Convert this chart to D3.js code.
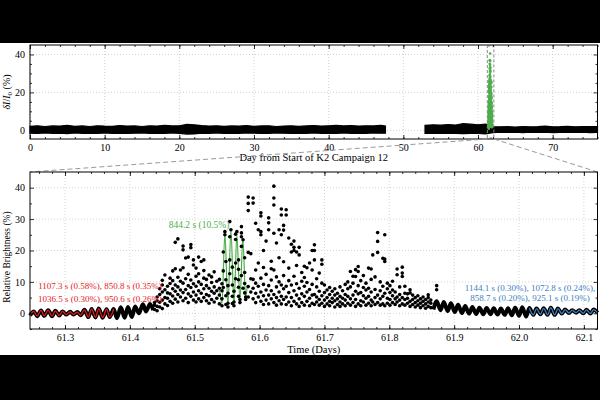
<!DOCTYPE html>
<html>
<head>
<meta charset="utf-8">
<script src="https://cdn.jsdelivr.net/npm/d3@7"></script>
<style>
  body { margin: 0; background: #000; }
  svg { display: block; }
  text { font-family: "Liberation Serif", "DejaVu Serif", serif; }
</style>
</head>
<body>
<svg width="600" height="400"></svg>
<script>
// ---- top panel: whole campaign, black envelope of the dense points ----
const topDaysA = [0,1,2,3,4,5,6,7,8,9,10,11,12,13,14,15,16,17,18,19,20,21,22,23,24,25,26,27,28,29,30,31,32,33,34,35,36,37,38,39,40,41,42,43,44,45,46,47,47.6];
const topLowA  = [-1.5,-1.7,-1.4,-1.6,-1.5,-1.8,-1.4,-1.6,-1.5,-1.7,-1.4,-1.6,-1.5,-1.7,-1.5,-1.4,-1.6,-1.5,-1.7,-1.4,-1.6,-2.0,-1.9,-1.5,-1.6,-1.4,-1.7,-1.5,-1.6,-1.4,-1.5,-1.7,-1.6,-1.4,-1.5,-1.7,-1.5,-1.6,-1.4,-1.6,-1.5,-1.7,-1.4,-1.6,-1.5,-1.6,-1.4,-1.5,-1.5];
const topHighA = [2.1,2.4,2.0,2.3,2.2,2.6,2.1,2.3,2.0,2.4,2.2,2.1,2.5,2.2,2.3,2.0,2.4,2.2,2.6,2.3,2.4,3.1,2.9,2.5,2.2,2.4,2.1,2.3,2.2,2.5,2.1,2.3,2.4,2.0,2.2,2.4,2.1,2.3,2.5,2.2,2.4,2.6,2.3,2.5,2.2,2.4,2.3,2.6,2.2];
const topDaysB = [52.9,54,55,56,57,58,59,60,61,62,63,64,65,66,67,68,69,70,71,72,73,74,75,76];
const topLowB  = [-1.6,-1.7,-1.5,-1.6,-1.7,-1.8,-1.6,-1.7,-1.9,-1.2,-1.0,-1.1,-1.0,-1.2,-1.0,-1.1,-1.0,-1.2,-1.1,-1.0,-1.1,-1.0,-1.2,-1.1];
const topHighB = [2.6,2.9,2.7,3.0,2.8,3.5,3.2,2.9,3.3,1.9,1.8,1.9,1.7,2.0,1.8,1.9,2.2,1.8,1.9,2.1,1.8,1.9,2.0,1.9];

// ---- bottom panel: quiet stretch before the outburst (peaks/troughs) ----
const quietLeftT = [61.246,61.252,61.257,61.263,61.268,61.274,61.280,61.285,61.291,61.296,61.302,61.308,61.313,61.319,61.324,61.330,61.336,61.341,61.347,61.352,61.358,61.364,61.369,61.375,61.380,61.386,61.392,61.397,61.403,61.408,61.414,61.420,61.425,61.431,61.436];
const quietLeftV = [-0.7,0.6,-0.9,0.9,-0.8,1.0,-0.9,0.8,-0.7,0.6,-0.4,0.5,-0.4,0.4,-0.6,1.1,-1.2,1.4,-1.3,1.5,-1.4,1.3,-1.2,1.4,-1.5,1.9,-1.4,2.0,-1.2,2.2,0.0,2.9,0.6,3.0,1.0];

// quiet stretch after the outburst
const quietRightT = [61.868,61.873,61.879,61.884,61.890,61.895,61.901,61.906,61.912,61.917,61.923,61.928,61.934,61.939,61.945,61.950,61.956,61.961,61.967,61.972,61.978,61.983,61.989,61.994,62.000,62.005,62.011,62.016,62.022,62.027,62.033,62.038,62.044,62.049,62.055,62.060,62.066,62.071,62.077,62.082,62.088,62.093,62.099,62.104,62.110,62.115,62.121];
const quietRightV = [1.2,3.8,1.0,3.6,0.7,3.2,0.4,2.7,0.1,2.3,-0.1,2.0,-0.2,1.8,-0.3,1.7,-0.3,1.6,-0.4,1.5,-0.5,1.6,-0.6,1.8,-0.8,1.9,-1.0,1.7,-0.5,1.5,-0.3,1.6,-0.5,1.8,-0.5,1.5,-0.1,1.2,0.1,1.0,0.2,1.0,0.0,1.1,-0.1,1.2,0.2];

// outburst points, grouped by time: [day, [brightness values]]
const burstCols = [
  [61.438,[1.2,2.6,3.4]],
  [61.442,[0.8,2.2,4.0,5.2]],
  [61.446,[2.0,3.5,6.0,7.8]],
  [61.450,[1.5,4.2,6.8,9.0,10.5]],
  [61.454,[3.0,5.0,7.5,12.2]],
  [61.458,[2.5,4.8,6.5,8.6]],
  [61.462,[3.8,6.2,9.5,11.2]],
  [61.466,[3.2,5.5,7.8,10.4,13.5]],
  [61.470,[4.5,7.0,9.0,14.2,22.6]],
  [61.474,[3.6,6.0,8.4,11.5,23.7]],
  [61.478,[5.2,7.4,10.2,13.8]],
  [61.482,[4.0,6.6,9.6,14.5,20.2,21.4]],
  [61.486,[4.8,7.6,11.0,17.6]],
  [61.490,[3.4,6.2,8.8,12.4,17.9]],
  [61.494,[5.4,8.2,10.6,20.9,21.9]],
  [61.498,[4.2,6.8,9.4,15.4,17.0]],
  [61.502,[3.6,5.8,8.6,11.8,14.4]],
  [61.506,[4.6,7.2,10.0,12.6,17.9]],
  [61.510,[3.8,6.4,9.2,16.5]],
  [61.514,[5.0,7.8,11.2,13.6,17.0]],
  [61.518,[4.0,6.0,8.8,10.8]],
  [61.522,[3.2,5.6,8.0,12.2]],
  [61.526,[4.4,7.0,9.8,11.6]],
  [61.530,[3.6,6.4,8.4,13.2]],
  [61.534,[4.8,7.2,10.2]],
  [61.538,[3.0,5.8,8.0,10.8]],
  [61.542,[2.4,4.6,7.2,9.4]],
  [61.544,[8.2,13.5,19.5]],
  [61.5465,[25.0,26.0]],
  [61.548,[2.8,5.6,10.7,16.5]],
  [61.5512,[2.0,3.2,6.4,8.8]],
  [61.554,[12.6,17.0,24.4,29.2]],
  [61.5558,[26.6]],
  [61.558,[3.1,5.4,9.0,14.7]],
  [61.5605,[2.4,3.6,7.0]],
  [61.563,[11.0,16.0,23.5,25.2]],
  [61.565,[26.0]],
  [61.5675,[5.4,8.3,10.7,14.0,17.0]],
  [61.5697,[3.4,4.4]],
  [61.572,[12.0,21.3,24.4,25.6,27.6]],
  [61.5745,[23.4,8.0]],
  [61.577,[6.5,9.5,13.0,17.7]],
  [61.5785,[4.4,5.2]],
  [61.5825,[5.2,8.5,19.4,32.7,35.0,37.0]],
  [61.5865,[6.8,11.0,19.0]],
  [61.590,[4.6,8.0,10.8,35.1,36.7]],
  [61.594,[3.4,6.4,9.6,13.8,28.7]],
  [61.598,[5.2,8.6,16.0,26.6]],
  [61.602,[3.8,6.8,11.2,25.0,26.0,31.0,32.0]],
  [61.606,[2.8,5.6,9.2,14.6,20.0]],
  [61.610,[4.2,7.4,12.4,23.0]],
  [61.614,[3.0,5.8,8.8,26.6,28.8,30.4]],
  [61.618,[4.6,7.2,10.6,14.2,16.6]],
  [61.622,[3.4,6.0,13.8,25.5,34.5,36.7,40.5]],
  [61.626,[2.6,5.0,8.4,11.6,22.4]],
  [61.630,[4.0,6.8,10.0,17.7,26.6]],
  [61.6335,[3.0,5.4,9.0,25.0,31.3,33.2]],
  [61.637,[4.4,7.8,12.0,16.4,26.5,28.0]],
  [61.641,[2.8,5.2,8.6,31.3,33.0]],
  [61.645,[3.6,6.6,10.4,14.4,24.0]],
  [61.649,[2.4,5.0,9.0,19.5,22.0]],
  [61.653,[3.8,7.2,11.8,20.0,21.0,23.0]],
  [61.657,[3.0,5.8,9.4,15.2,19.5]],
  [61.661,[2.2,4.6,8.0,18.6,21.0]],
  [61.665,[3.4,6.2,10.2,13.0]],
  [61.669,[2.6,5.4,8.6,11.4,15.0]],
  [61.673,[3.8,6.8,9.8,14.5]],
  [61.677,[2.4,4.8,7.6,16.0]],
  [61.681,[3.2,5.8,9.2,13.8,20.0]],
  [61.6845,[2.8,6.0,17.0,20.0,21.8]],
  [61.688,[3.6,5.2,8.4,11.0]],
  [61.692,[2.6,4.4,7.0,12.8]],
  [61.696,[3.2,5.6,9.6,15.6,17.0]],
  [61.700,[2.2,4.2,6.6,9.0]],
  [61.704,[3.0,5.0,7.4]],
  [61.708,[2.4,3.8,6.0,8.2]],
  [61.712,[3.4,4.8,7.0]],
  [61.716,[2.0,4.0,5.8,7.8]],
  [61.720,[2.8,4.6,6.4]],
  [61.724,[2.2,3.6,5.4,8.4]],
  [61.728,[3.0,4.8,7.2]],
  [61.732,[2.4,4.2,6.0,9.2]],
  [61.736,[3.2,5.4,7.8,10.0]],
  [61.740,[2.6,4.6,8.4,13.3]],
  [61.744,[3.4,5.8,9.6,11.8]],
  [61.748,[2.2,4.4,7.0,11.7,13.9]],
  [61.752,[3.0,6.2,8.8,13.3,14.9]],
  [61.756,[2.4,4.0,6.6,10.4]],
  [61.760,[3.6,5.6,8.2,12.0]],
  [61.764,[2.6,4.8,7.4,9.6]],
  [61.768,[3.2,5.4,8.0,14.4]],
  [61.772,[2.4,4.2,6.8,10.8,14.1]],
  [61.7745,[3.6,18.6]],
  [61.778,[2.8,5.0,7.6,11.6]],
  [61.782,[3.4,5.8,19.4,22.9,25.7]],
  [61.786,[2.6,4.6,7.2,10.0]],
  [61.790,[3.0,5.4,8.6,17.5]],
  [61.793,[2.4,6.4,16.5,17.3,25.0]],
  [61.797,[3.2,4.8,7.8,9.6]],
  [61.801,[2.6,4.4,6.6,8.8]],
  [61.805,[3.4,5.6,7.4,10.2]],
  [61.809,[2.8,4.6,6.8]],
  [61.812,[3.6,5.2,12.3,14.1]],
  [61.816,[2.4,4.2,6.0,8.4]],
  [61.820,[3.0,5.0,11.7,12.8,14.7]],
  [61.824,[2.6,4.4,6.4,8.6]],
  [61.828,[3.2,4.8,6.2]],
  [61.832,[2.2,3.8,6.5,7.5]],
  [61.836,[2.8,4.4,5.8]],
  [61.840,[2.0,3.4,5.0]],
  [61.844,[2.6,4.0,5.6]],
  [61.848,[1.8,3.2,4.6]],
  [61.852,[2.4,3.8,5.2]],
  [61.856,[1.6,3.0,4.4]],
  [61.860,[2.2,3.6,5.0,5.9]],
  [61.864,[1.8,3.2,4.2]],
  [61.873,[7.5,8.8]]
];

// 844.2 s sinusoid through the first big oscillations (peaks/troughs)
const greenT = [61.538,61.542,61.5465,61.5512,61.5558,61.5605,61.565,61.5697,61.5742,61.5785,61.581];
const greenV = [8.0,3.0,25.5,2.2,26.6,2.8,25.0,3.8,23.9,4.9,9.0];

const tickTop = [0,10,20,30,40,50,60,70];
const tickBot = [61.3,61.4,61.5,61.6,61.7,61.8,61.9,62.0,62.1];

const green = "#4daf4a", red = "#e41a1c", blue = "#3f81c0";

const svg = d3.select("svg");
svg.append("rect").attr("x", 0).attr("y", 43).attr("width", 600).attr("height", 312).attr("fill", "#fff");

const pTop = {l: 30, r: 597.5, t: 45, b: 139};
const pBot = {l: 30, r: 597.5, t: 172, b: 329};

const xTop = d3.scaleLinear().domain([0, 76]).range([pTop.l, pTop.r]);
const yTop = d3.scaleLinear().domain([-4.6, 45]).range([pTop.b, pTop.t]);
const xBot = d3.scaleLinear().domain([61.246, 62.121]).range([pBot.l, pBot.r]);
const yBot = d3.scaleLinear().domain([-5, 45]).range([pBot.b, pBot.t]);

const burst = burstCols.flatMap(([t, vs]) => vs.map(v => ({t, v})));

function grid(box, x, y, xt, yt) {
  const g = svg.append("g");
  g.selectAll(".gx").data(xt).join("line")
    .attr("x1", d => x(d)).attr("x2", d => x(d))
    .attr("y1", box.t).attr("y2", box.b);
  g.selectAll(".gy").data(yt).join("line")
    .attr("y1", d => y(d)).attr("y2", d => y(d))
    .attr("x1", box.l).attr("x2", box.r);
  g.selectAll("line").attr("stroke", "#c8c8c8").attr("stroke-width", 0.8).attr("stroke-dasharray", "1,2");
}

function axes(box, x, y, xt, xm, yt, ym, xfmt) {
  const add = (axis, tr, labels) => {
    const g = svg.append("g").attr("transform", tr).call(axis);
    g.select(".domain").remove();
    g.selectAll("line").attr("stroke", "#000").attr("stroke-width", 0.8);
    g.selectAll("text").attr("font-family", "Liberation Serif, serif").attr("font-size", 10).attr("fill", "#000");
    if (!labels) g.selectAll("text").remove();
  };
  add(d3.axisBottom(x).tickValues(xt).tickSize(-4).tickPadding(5).tickFormat(xfmt), `translate(0,${box.b})`, true);
  add(d3.axisBottom(x).tickValues(xm).tickSize(-2), `translate(0,${box.b})`, false);
  add(d3.axisTop(x).tickValues(xt).tickSize(-4), `translate(0,${box.t})`, false);
  add(d3.axisTop(x).tickValues(xm).tickSize(-2), `translate(0,${box.t})`, false);
  add(d3.axisLeft(y).tickValues(yt).tickSize(-4).tickPadding(5).tickFormat(d3.format("d")), `translate(${box.l},0)`, true);
  add(d3.axisLeft(y).tickValues(ym).tickSize(-2), `translate(${box.l},0)`, false);
  add(d3.axisRight(y).tickValues(yt).tickSize(-4), `translate(${box.r},0)`, false);
  add(d3.axisRight(y).tickValues(ym).tickSize(-2), `translate(${box.r},0)`, false);
  svg.append("rect").attr("x", box.l).attr("y", box.t)
    .attr("width", box.r - box.l).attr("height", box.b - box.t)
    .attr("fill", "none").attr("stroke", "#000").attr("stroke-width", 1);
}

// ---------- top panel ----------
grid(pTop, xTop, yTop, tickTop, [0, 20, 40]);

const band = d3.area().x(d => xTop(d[0])).y0(d => yTop(d[1])).y1(d => yTop(d[2]));
[[topDaysA, topLowA, topHighA], [topDaysB, topLowB, topHighB]].forEach(([ds, lo, hi]) => {
  svg.append("path")
    .datum(ds.map((d, i) => [d, lo[i], hi[i]]))
    .attr("d", band).attr("fill", "#000").attr("stroke", "#000").attr("stroke-width", 1.2);
});

svg.append("g").selectAll("circle").data(burst).join("circle")
  .attr("cx", d => xTop(d.t)).attr("cy", d => yTop(d.v)).attr("r", 1.3).attr("fill", green);

// zoom box
svg.append("rect")
  .attr("x", xTop(61.246)).attr("y", pTop.t + 1)
  .attr("width", xTop(62.121) - xTop(61.246)).attr("height", pTop.b - pTop.t - 2)
  .attr("fill", "none").attr("stroke", "#888").attr("stroke-width", 1).attr("stroke-dasharray", "3,2");

axes(pTop, xTop, yTop, tickTop, d3.range(0, 77, 2), [0, 20, 40], [5, 10, 15, 25, 30, 35], d3.format("d"));

svg.append("text").attr("x", (pTop.l + pTop.r) / 2).attr("y", 161).attr("text-anchor", "middle")
  .attr("font-size", 10.5).text("Day from Start of K2 Campaign 12");
svg.append("text").attr("transform", `translate(10,${(pTop.t + pTop.b) / 2}) rotate(-90)`)
  .attr("text-anchor", "middle").attr("font-size", 10)
  .html('<tspan font-style="italic">δI</tspan>/<tspan font-style="italic">I</tspan><tspan font-size="7" dy="2">0</tspan><tspan dy="-2"> (%)</tspan>');

// connectors
[[xTop(61.246), pBot.l], [xTop(62.121), pBot.r]].forEach(([a, b]) => {
  svg.append("line").attr("x1", a).attr("y1", pTop.b).attr("x2", b).attr("y2", pBot.t)
    .attr("stroke", "#999").attr("stroke-width", 1).attr("stroke-dasharray", "5,3");
});

// ---------- bottom panel ----------
grid(pBot, xBot, yBot, tickBot, [0, 10, 20, 30, 40]);

const line = d3.line().x(d => xBot(d[0])).y(d => yBot(d[1])).curve(d3.curveMonotoneX);
const left = quietLeftT.map((t, i) => [t, quietLeftV[i]]);
const right = quietRightT.map((t, i) => [t, quietRightV[i]]);

svg.append("path").datum(left).attr("d", line).attr("fill", "none").attr("stroke", "#000").attr("stroke-width", 4);
svg.append("path").datum(right).attr("d", line).attr("fill", "none").attr("stroke", "#000").attr("stroke-width", 4);
svg.append("path").datum(left.filter(d => d[0] <= 61.376)).attr("d", line)
  .attr("fill", "none").attr("stroke", red).attr("stroke-width", 1.3);
svg.append("path").datum(right.filter(d => d[0] >= 62.015)).attr("d", line)
  .attr("fill", "none").attr("stroke", blue).attr("stroke-width", 1.3);

svg.append("path").datum(greenT.map((t, i) => [t, greenV[i]])).attr("d", line)
  .attr("fill", "none").attr("stroke", green).attr("stroke-width", 1.2);

svg.append("g").selectAll("circle").data(burst).join("circle")
  .attr("cx", d => xBot(d.t)).attr("cy", d => yBot(d.v)).attr("r", 1.8).attr("fill", "#000");

axes(pBot, xBot, yBot, tickBot, d3.range(61.26, 62.121, 0.02), [0, 10, 20, 30, 40], [-5, 5, 15, 25, 35], d3.format(".1f"));

svg.append("text").attr("x", (pBot.l + pBot.r) / 2).attr("y", 353).attr("text-anchor", "middle")
  .attr("font-size", 10.5).text("Time (Days)");
svg.append("text").attr("transform", `translate(10,257) rotate(-90)`)
  .attr("text-anchor", "middle").attr("font-size", 9.5).text("Relative Brightness (%)");

// annotations
svg.append("text").attr("x", 199).attr("y", 228).attr("text-anchor", "middle")
  .attr("font-size", 9.5).attr("fill", green).text("844.2 s (10.5%)");
[["1107.3 s (0.58%), 850.8 s (0.35%)", 289], ["1036.5 s (0.30%), 950.6 s (0.26%)", 302]].forEach(([s, y]) => {
  svg.append("text").attr("x", 100).attr("y", y).attr("text-anchor", "middle")
    .attr("font-size", 9).attr("fill", red).text(s);
});
[["1144.1 s (0.30%), 1072.8 s (0.24%),", 291], ["858.7 s (0.20%), 925.1 s (0.19%)", 301]].forEach(([s, y]) => {
  svg.append("text").attr("x", 530).attr("y", y).attr("text-anchor", "middle")
    .attr("font-size", 9).attr("fill", blue).text(s);
});
</script>
</body>
</html>
